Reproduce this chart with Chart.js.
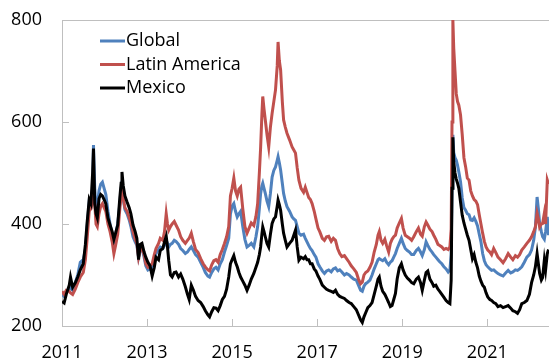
<!DOCTYPE html>
<html>
<head>
<meta charset="utf-8">
<script src="https://cdn.jsdelivr.net/npm/chart.js@4.4.1/dist/chart.umd.min.js"></script>
<style>
  html, body { margin: 0; padding: 0; background: #ffffff; }
  #wrap { width: 549px; height: 362px; }
</style>
</head>
<body>
<div id="wrap"><canvas id="chart" width="549" height="362"></canvas></div>
<script>
// Time axis in fractional years, shared by all three series
const dates = [
  // 2011
  2011.00, 2011.05, 2011.10, 2011.17, 2011.20, 2011.25, 2011.31, 2011.37, 2011.43, 2011.50, 2011.55, 2011.59,
  2011.64, 2011.68, 2011.72, 2011.74, 2011.77, 2011.80, 2011.83, 2011.87, 2011.91, 2011.95, 2011.99,
  // 2012
  2012.03, 2012.08, 2012.13, 2012.18, 2012.22, 2012.26, 2012.31, 2012.36, 2012.39, 2012.41, 2012.44, 2012.48,
  2012.53, 2012.58, 2012.62, 2012.67, 2012.72, 2012.76, 2012.80, 2012.84, 2012.88, 2012.93, 2012.97,
  // 2013
  2013.02, 2013.07, 2013.12, 2013.17, 2013.21, 2013.27, 2013.31, 2013.37, 2013.41, 2013.45, 2013.48,
  2013.51, 2013.55, 2013.59, 2013.64, 2013.68, 2013.74, 2013.79, 2013.84, 2013.90, 2013.95, 2013.99,
  // 2014
  2014.04, 2014.09, 2014.14, 2014.20, 2014.26, 2014.32, 2014.37, 2014.43, 2014.47, 2014.52,
  2014.57, 2014.62, 2014.67, 2014.72, 2014.77, 2014.82, 2014.87, 2014.92, 2014.96,
  // 2015
  2015.00, 2015.04, 2015.08, 2015.12, 2015.16, 2015.20, 2015.25, 2015.30, 2015.35, 2015.40, 2015.45, 2015.51,
  2015.56, 2015.60, 2015.64, 2015.67, 2015.70, 2015.72, 2015.75, 2015.78, 2015.82, 2015.86, 2015.90, 2015.94, 2015.98,
  // 2016
  2016.02, 2016.06, 2016.08, 2016.11, 2016.14, 2016.18, 2016.21, 2016.25, 2016.29, 2016.35, 2016.41, 2016.45,
  2016.49, 2016.53, 2016.57, 2016.62, 2016.68, 2016.72, 2016.76, 2016.80, 2016.84, 2016.88, 2016.93, 2016.97,
  // 2017
  2017.02, 2017.06, 2017.12, 2017.17, 2017.22, 2017.27, 2017.33, 2017.38, 2017.43, 2017.48,
  2017.53, 2017.58, 2017.64, 2017.69, 2017.75, 2017.80, 2017.86, 2017.92, 2017.97,
  // 2018
  2018.02, 2018.06, 2018.10, 2018.14, 2018.19, 2018.24, 2018.29, 2018.34, 2018.39, 2018.43, 2018.46, 2018.50,
  2018.54, 2018.59, 2018.63, 2018.68, 2018.72, 2018.76, 2018.80, 2018.84, 2018.88, 2018.93, 2018.98,
  // 2019
  2019.02, 2019.07, 2019.12, 2019.17, 2019.22, 2019.27, 2019.33, 2019.38, 2019.43, 2019.47, 2019.52,
  2019.56, 2019.60, 2019.65, 2019.70, 2019.74, 2019.79, 2019.84, 2019.88, 2019.93, 2019.98,
  // 2020
  2020.03, 2020.08, 2020.12, 2020.15, 2020.17, 2020.19, 2020.21, 2020.24, 2020.27, 2020.30, 2020.33, 2020.37,
  2020.41, 2020.45, 2020.49, 2020.53, 2020.57, 2020.61, 2020.65, 2020.69, 2020.73, 2020.77, 2020.81, 2020.85,
  2020.89, 2020.93, 2020.97,
  // 2021
  2021.01, 2021.06, 2021.10, 2021.15, 2021.20, 2021.25, 2021.31, 2021.37, 2021.43, 2021.49,
  2021.55, 2021.60, 2021.66, 2021.71, 2021.76, 2021.81, 2021.87, 2021.93, 2021.99,
  // 2022
  2022.04, 2022.09, 2022.13, 2022.17, 2022.20, 2022.23, 2022.27, 2022.30, 2022.34, 2022.37, 2022.41, 2022.44
];

const globalSpread = [
  262, 258, 268, 272, 275, 270, 285, 300, 325, 330, 350, 395,
  445, 440, 470, 555, 470, 430, 435, 465, 478, 482, 470,
  458, 425, 400, 378, 362, 380, 400, 440, 470, 485, 450, 428,
  420, 408, 395, 375, 365, 358, 335, 350, 352, 335, 318,
  310, 312, 312, 330, 342, 350, 355, 352, 358, 368, 362,
  355, 360, 362, 368, 366, 360, 352, 348, 342, 345, 350,
  355, 348, 340, 335, 325, 315, 305, 298, 296, 305,
  312, 315, 310, 322, 330, 345, 358, 372, 420,
  435, 440, 425, 414, 420, 425, 395, 370, 355, 358, 362, 355,
  375, 395, 430, 460, 475, 480, 470, 460, 445, 434, 460, 492, 505,
  512, 525, 532, 520, 506, 480, 460, 445, 434, 425, 414, 410,
  407, 395, 382, 378, 380, 372, 365, 358, 352, 348, 340, 335,
  322, 316, 308, 303, 308, 310, 306, 312, 314, 308,
  310, 306, 300, 303, 300, 296, 292, 290, 280,
  270, 268, 278, 283, 286, 290, 300, 312, 322, 330, 332, 330,
  328, 332, 325, 320, 325, 328, 335, 342, 352, 362, 372,
  362, 352, 348, 345, 340, 340, 348, 352, 345, 338, 350,
  365, 358, 350, 345, 340, 335, 330, 326, 322, 316,
  312, 306, 310, 340, 470, 575, 540, 530, 525, 515, 502, 483,
  451, 432, 427, 420, 418, 408, 407, 412, 405, 396, 380, 365,
  342, 328, 320,
  316, 312, 309, 310, 306, 303, 300, 298, 304, 309,
  304, 306, 310, 309, 312, 316, 325, 335, 340,
  349, 368, 394, 453, 430, 401, 385, 375, 370, 385, 414, 378
];

const latinAmerica = [
  268, 262, 270, 268, 265, 262, 272, 285, 296, 305, 330, 370,
  425, 430, 445, 455, 440, 400, 395, 420, 435, 440, 432,
  425, 400, 385, 365, 342, 358, 380, 430, 455, 470, 450, 432,
  425, 412, 402, 385, 370, 362, 335, 350, 352, 340, 322,
  315, 318, 322, 340, 352, 362, 372, 368, 385, 420, 400,
  388, 395, 400, 405, 398, 388, 375, 368, 362, 368, 372,
  382, 365, 350, 344, 332, 322, 316, 310, 308, 320,
  328, 330, 325, 340, 350, 362, 375, 395, 455,
  470, 490, 465, 455, 468, 472, 430, 395, 382, 392, 402, 397,
  415, 440, 500, 550, 615, 650, 625, 604, 575, 551, 590, 617, 640,
  663, 710, 757, 720, 702, 640, 604, 590, 578, 565, 551, 545,
  539, 510, 486, 470, 462, 472, 462, 452, 448, 440, 425, 410,
  392, 385, 372, 368, 375, 376, 366, 372, 368, 352,
  342, 336, 338, 332, 325, 318, 312, 305, 292,
  283, 286, 300, 305, 308, 315, 325, 345, 360, 378, 385, 368,
  362, 370, 358, 345, 362, 370, 375, 378, 392, 402, 411,
  392, 378, 375, 372, 368, 375, 385, 392, 380, 376, 395,
  404, 398, 390, 385, 378, 370, 360, 358, 355, 350,
  352, 350, 355, 390, 600, 800, 745, 700, 655, 640, 633, 614,
  575, 530, 512, 490, 486, 465, 455, 448, 445, 438, 418, 400,
  382, 366, 355,
  349, 345, 340, 352, 344, 335, 330, 324, 332, 342,
  335, 330, 338, 335, 340, 349, 355, 362, 368,
  375, 385, 394, 421, 410, 394, 400, 401, 421, 400, 486, 478
];

const mexico = [
  248, 245, 262, 280, 296, 276, 284, 296, 310, 322, 360, 402,
  448, 440, 500, 548, 440, 420, 412, 450, 458, 455, 448,
  440, 412, 398, 385, 370, 382, 398, 452, 480, 502, 475, 455,
  443, 432, 420, 398, 385, 372, 330, 360, 362, 345, 335,
  325, 318, 298, 315, 335, 330, 348, 352, 365, 376, 355,
  328, 300, 296, 305, 306, 296, 302, 292, 277, 262, 252,
  280, 270, 258, 250, 246, 238, 230, 222, 218, 228,
  236, 235, 230, 240, 252, 258, 272, 296, 322,
  330, 338, 325, 316, 305, 296, 288, 280, 270, 280, 292, 303,
  315, 325, 340, 355, 380, 394, 385, 375, 362, 355, 380, 401, 410,
  414, 435, 447, 438, 427, 400, 382, 368, 355, 362, 368, 378,
  388, 355, 329, 335, 332, 336, 330, 330, 322, 322, 312, 308,
  298, 292, 280, 276, 272, 270, 268, 266, 270, 262,
  258, 256, 254, 250, 246, 244, 238, 232, 222,
  212, 207, 218, 226, 236, 240, 246, 262, 278, 292, 296, 278,
  268, 262, 255, 246, 238, 240, 252, 264, 292, 314, 322,
  310, 300, 294, 290, 285, 283, 292, 296, 285, 270, 290,
  305, 308, 292, 285, 278, 280, 272, 268, 262, 256,
  250, 246, 244, 290, 470, 570, 522, 500, 488, 480, 470, 443,
  417, 402, 390, 378, 368, 350, 332, 340, 325, 314, 298, 288,
  280, 276, 265,
  257, 252, 250, 246, 244, 238, 240, 236, 238, 240,
  235, 230, 228, 225, 232, 244, 246, 250, 262,
  285, 300, 316, 342, 322, 303, 290, 295, 329, 310, 342, 350
];

const seriesNames = ['Global', 'Latin America', 'Mexico'];
const seriesColors = ['#4F81BD', '#C0504D', '#000000'];
const xTickYears = [2011, 2013, 2015, 2017, 2019, 2021];
const yTickValues = [200, 400, 600, 800];

const AXIS_GRAY = '#BFBFBF';
const FONT = '"Open Sans", "Noto Sans", sans-serif';

function toPoints(values) {
  return dates.map((d, i) => ({ x: d, y: values[i] }));
}

// Top frame line and short inward tick marks on both axes
const framePlugin = {
  id: 'frame',
  beforeDatasetsDraw(chart) {
    const { ctx, chartArea } = chart;
    const xs = chart.scales.x, ys = chart.scales.y;
    ctx.save();
    ctx.strokeStyle = AXIS_GRAY;
    ctx.lineWidth = 1;
    ctx.beginPath();
    ctx.moveTo(chartArea.left, Math.round(chartArea.top) + 0.5);
    ctx.lineTo(chartArea.right, Math.round(chartArea.top) + 0.5);
    yTickValues.forEach(v => {
      const py = Math.round(ys.getPixelForValue(v)) + 0.5;
      ctx.moveTo(chartArea.left, py);
      ctx.lineTo(chartArea.left + 7, py);
    });
    xTickYears.forEach(v => {
      const px = Math.round(xs.getPixelForValue(v)) + 0.5;
      ctx.moveTo(px, chartArea.bottom);
      ctx.lineTo(px, chartArea.bottom - 7);
    });
    ctx.stroke();
    ctx.restore();
  }
};

// Legend drawn inside the plot, upper left
const insetLegend = {
  id: 'insetLegend',
  afterDatasetsDraw(chart) {
    const { ctx } = chart;
    const rows = [41, 64.5, 88];
    ctx.save();
    ctx.font = '18px ' + FONT;
    ctx.textBaseline = 'middle';
    ctx.textAlign = 'left';
    seriesNames.forEach((name, i) => {
      ctx.strokeStyle = seriesColors[i];
      ctx.lineWidth = 3;
      ctx.beginPath();
      ctx.moveTo(100, rows[i]);
      ctx.lineTo(125, rows[i]);
      ctx.stroke();
      ctx.fillStyle = '#000000';
      ctx.fillText(name, 126, rows[i]);
    });
    ctx.restore();
  }
};

function draw() {
  const valueSets = [globalSpread, latinAmerica, mexico];
  const drawOrder = [3, 2, 1];
  new Chart(document.getElementById('chart'), {
    type: 'line',
    data: {
      datasets: seriesNames.map((name, i) => ({
        label: name,
        data: toPoints(valueSets[i]),
        borderColor: seriesColors[i],
        backgroundColor: seriesColors[i],
        borderWidth: 3,
        pointRadius: 0,
        tension: 0,
        fill: false,
        order: drawOrder[i]
      }))
    },
    options: {
      responsive: false,
      animation: false,
      devicePixelRatio: 1,
      layout: { padding: { top: 20, right: 0, left: 0, bottom: 0 } },
      plugins: { legend: { display: false }, tooltip: { enabled: false } },
      scales: {
        x: {
          type: 'linear',
          min: 2011,
          max: 2022.45,
          afterBuildTicks: s => { s.ticks = xTickYears.map(v => ({ value: v })); },
          afterFit: s => { s.height = 36; s.paddingLeft = 0; s.paddingRight = 0; },
          grid: { display: false, drawTicks: false },
          border: { display: true, color: AXIS_GRAY, width: 1 },
          ticks: {
            autoSkip: false, maxRotation: 0, padding: 16,
            color: '#000000', font: { family: FONT, size: 18 },
            callback: v => String(v)
          }
        },
        y: {
          min: 200,
          max: 800,
          afterBuildTicks: s => { s.ticks = yTickValues.map(v => ({ value: v })); },
          afterFit: s => { s.width = 62; s.paddingTop = 0; s.paddingBottom = 0; },
          grid: { display: false, drawTicks: false },
          border: { display: true, color: AXIS_GRAY, width: 1 },
          ticks: {
            padding: 20,
            color: '#000000', font: { family: FONT, size: 18 },
            callback: v => String(v)
          }
        }
      }
    },
    plugins: [framePlugin, insetLegend]
  });
}

if (document.fonts && document.fonts.load) {
  document.fonts.load('18px "Open Sans"').then(draw, draw);
} else {
  draw();
}
</script>
</body>
</html>
